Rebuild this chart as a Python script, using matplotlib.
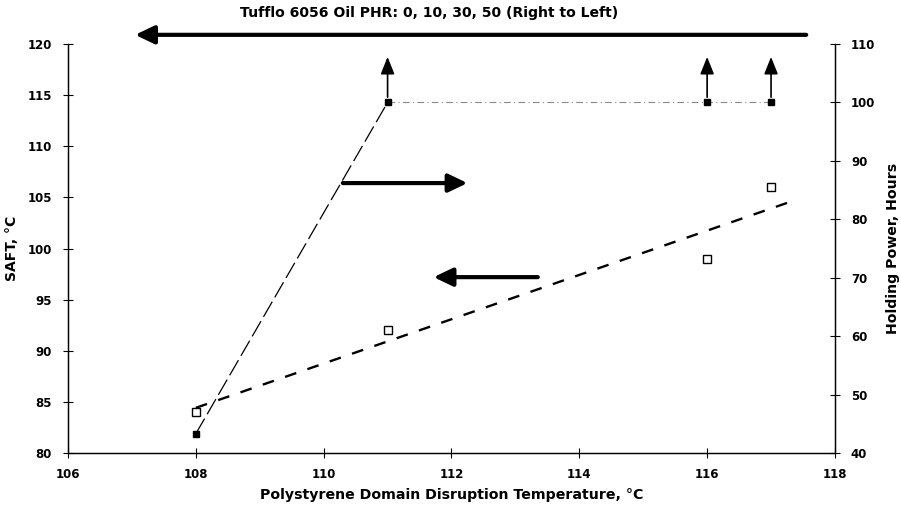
import numpy as np
import matplotlib
matplotlib.use("Agg")
import matplotlib.pyplot as plt

plt.rcParams['font.family'] = ['DejaVu Sans']
plt.rcParams['font.weight'] = 'bold'

# data
temp = [108, 111, 116, 117]              # polystyrene domain disruption temp, C
saft = [84, 92, 99, 106]                 # SAFT, C (left axis)
holding = [43.3, 100, 100, 100]          # holding power, hours (right axis)
fit_x = [108, 117.4]                     # extent of the SAFT trend line

title = "Tufflo 6056 Oil PHR: 0, 10, 30, 50 (Right to Left)"

fig = plt.figure(figsize=(9.01, 5.18), dpi=100)
ax = fig.add_axes([0.0755, 0.1255, 0.8512, 0.7895])
ax2 = ax.twinx()

# SAFT points and linear trend
coef = np.polyfit(temp, saft, 1)
fx = np.array(fit_x)
ax.plot(fx, np.polyval(coef, fx), color='black', lw=1.7, dashes=(5, 5))
ax.plot(temp, saft, 's', ms=6, mfc='white', mec='black', mew=1)

# Holding power (right axis)
ax2.plot(temp[:2], holding[:2], color='black', lw=0.9, dashes=(14, 4))
ax2.plot(temp[1:], holding[1:], color='#888888', lw=0.8, dashes=(6, 3, 1, 3))
ax2.plot(temp, holding, 's', ms=4.5, color='black')

# up arrows: holding power exceeded 100 h
for x, h in zip(temp[1:], holding[1:]):
    ax2.annotate('', xy=(x, h + 7.8), xytext=(x, h + 0.9),
                 arrowprops=dict(arrowstyle='-|>,head_length=1.05,head_width=0.42',
                                 color='black', lw=1.2, shrinkA=0, shrinkB=0),
                 annotation_clip=False)

big = dict(arrowstyle='-|>,head_length=1.15,head_width=0.55', color='black', lw=3,
           shrinkA=0, shrinkB=0)
# series indicators
ax.annotate('', xy=(112.25, 106.4), xytext=(110.3, 106.4), arrowprops=big)
ax.annotate('', xy=(111.72, 97.2), xytext=(113.35, 97.2), arrowprops=big)
# oil level arrow above the plot
ax.annotate('', xy=(107.05, 120.9), xytext=(117.55, 120.9), arrowprops=big,
            annotation_clip=False)

fig.text(0.476, 0.975, title, ha='center', va='center', fontsize=10.1, fontweight='bold')

ax.set_xlim(106, 118)
ax.set_ylim(80, 120)
ax2.set_ylim(40, 110)
ax.set_xticks(np.arange(106, 119, 2))
ax.set_yticks(np.arange(80, 121, 5))
ax2.set_yticks(np.arange(40, 111, 10))

for a in (ax, ax2):
    a.spines['top'].set_visible(False)
    a.tick_params(direction='inout', length=7, width=0.8, labelsize=8.5, pad=8)
    for s in a.spines.values():
        s.set_linewidth(0.9)
ax.tick_params(axis='x', pad=7)

ax.set_xlabel("Polystyrene Domain Disruption Temperature, °C", fontsize=10.2,
              fontweight='bold', labelpad=5)
ax.set_ylabel("SAFT, °C", fontsize=10, fontweight='bold', labelpad=6)
ax2.set_ylabel("Holding Power, Hours", fontsize=10.2, fontweight='bold', labelpad=8)

fig.savefig("out.png", dpi=100)
